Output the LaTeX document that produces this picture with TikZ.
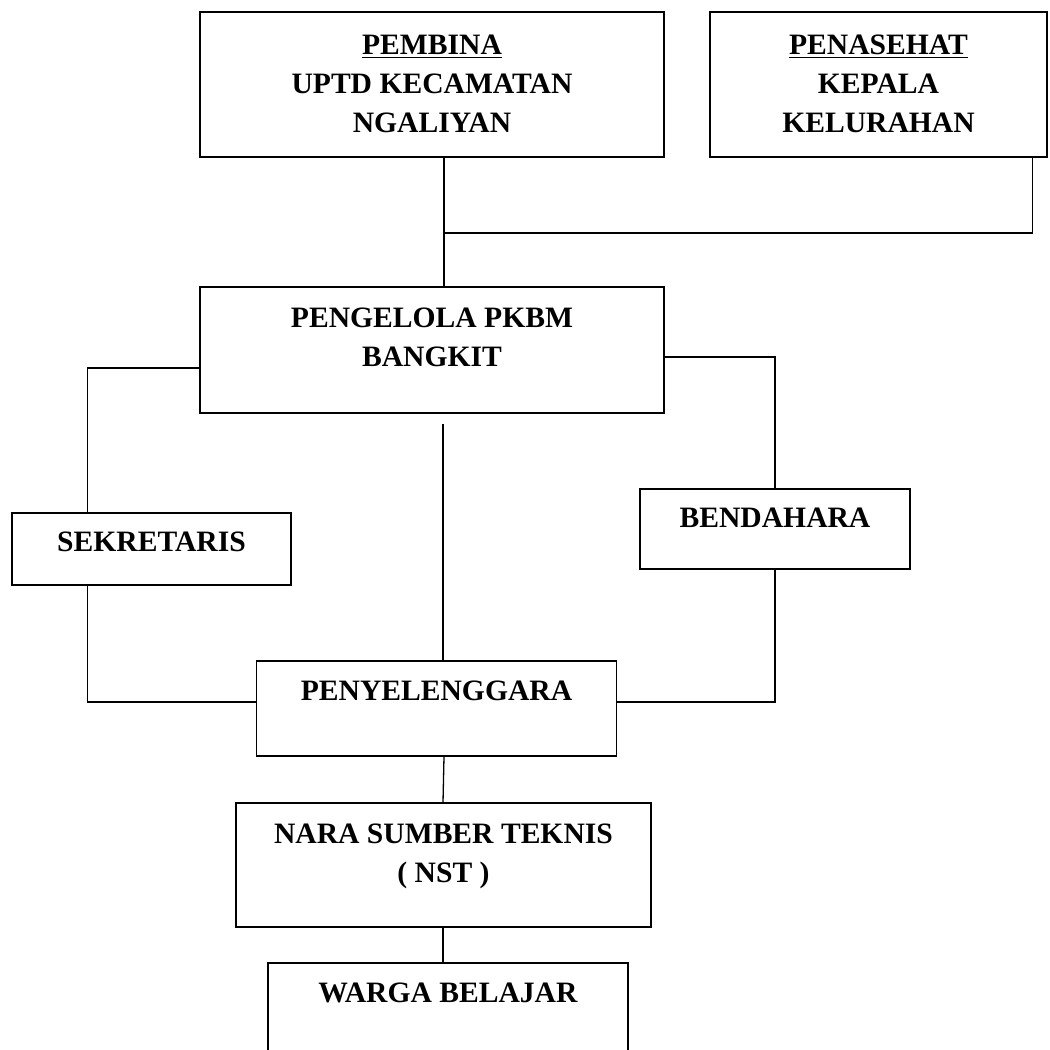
\documentclass[tikz,border=0pt]{standalone}
\usepackage{fontspec}
\setmainfont{Liberation Serif}
\usetikzlibrary{positioning,calc}

\tikzset{
  unit/.style={draw, line width=0.65pt, inner sep=0pt},
  caption/.style={font=\bfseries\fontsize{14.8}{19.5}\selectfont, align=center, inner sep=0pt},
  link/.style={line width=0.65pt},
}

\begin{document}
\begin{tikzpicture}[x=0.5pt, y=-0.5pt]
	\clip (0,0) rectangle (1050,1050);
	
	% boxes
	\node[unit, minimum width=232pt, minimum height=72.5pt] (pembina) at (432,84.5) {};
	\node[unit, minimum width=168.5pt, minimum height=72.5pt] (penasehat) at (878.5,84.5) {};
	\node[unit, minimum width=232pt, minimum height=63pt] (pengelola) at (432,350) {};
	\node[unit, minimum width=139.5pt, minimum height=36pt] (sekretaris) at (151.5,549) {};
	\node[unit, minimum width=135pt, minimum height=40pt] (bendahara) at (775,529) {};
	\node[unit, minimum width=180pt, minimum height=47.5pt] (penyelenggara) at (436.5,708.5) {};
	\node[unit, minimum width=207.5pt, minimum height=62pt] (nara) at (443.5,865) {};
	\node[unit, minimum width=180pt, minimum height=68.5pt] (warga) at (448,1031.5) {};
	
	% texts
	\node[caption, below=11.5pt of pembina.north] (pembinatext) {\underline{PEMBINA}\\UPTD KECAMATAN\\NGALIYAN};
	\node[caption, below=11.5pt of penasehat.north] (penasehattext) {\underline{PENASEHAT}\\KEPALA\\KELURAHAN};
	\node[caption, below=10.5pt of pengelola.north] (pengelolatext) {PENGELOLA PKBM\\BANGKIT};
	\node[caption, below=9.5pt of sekretaris.north] (sekretaristext) {SEKRETARIS};
	\node[caption, below=9.5pt of bendahara.north] (bendaharatext) {BENDAHARA};
	\node[caption, below=10pt of penyelenggara.north] (penyelenggaratext) {PENYELENGGARA};
	\node[caption, below=10.5pt of nara.north] (naratext) {NARA SUMBER TEKNIS\\( NST )};
	\node[caption, below=10pt of warga.north] (wargatext) {WARGA BELAJAR};
	
	% connectors
	\coordinate (spine) at (444,233);
	\coordinate (gap) at (443,424);
	\draw[link] (pembina.south -| spine) -- (pengelola.north -| spine);
	\draw[link] (spine) -| ($(penasehat.south east)+(-15,0)$);
	\draw[link] ($(pengelola.west)+(0,18)$) -| ($(sekretaris.north west)+(76,0)$);
	\draw[link] ($(pengelola.east)+(0,7)$) -| (bendahara.north);
	\draw[link] (gap) -- (penyelenggara.north -| gap);
	\draw[link] ($(sekretaris.south west)+(76,0)$) |- ($(penyelenggara.west)+(0,-6.5)$);
	\draw[link] (bendahara.south) |- ($(penyelenggara.east)+(0,-6.5)$);
	\draw[link] (penyelenggara.south -| spine) -- (nara.north -| gap);
	\draw[link] (nara.south -| gap) -- (warga.north -| gap);
\end{tikzpicture}
\end{document}
